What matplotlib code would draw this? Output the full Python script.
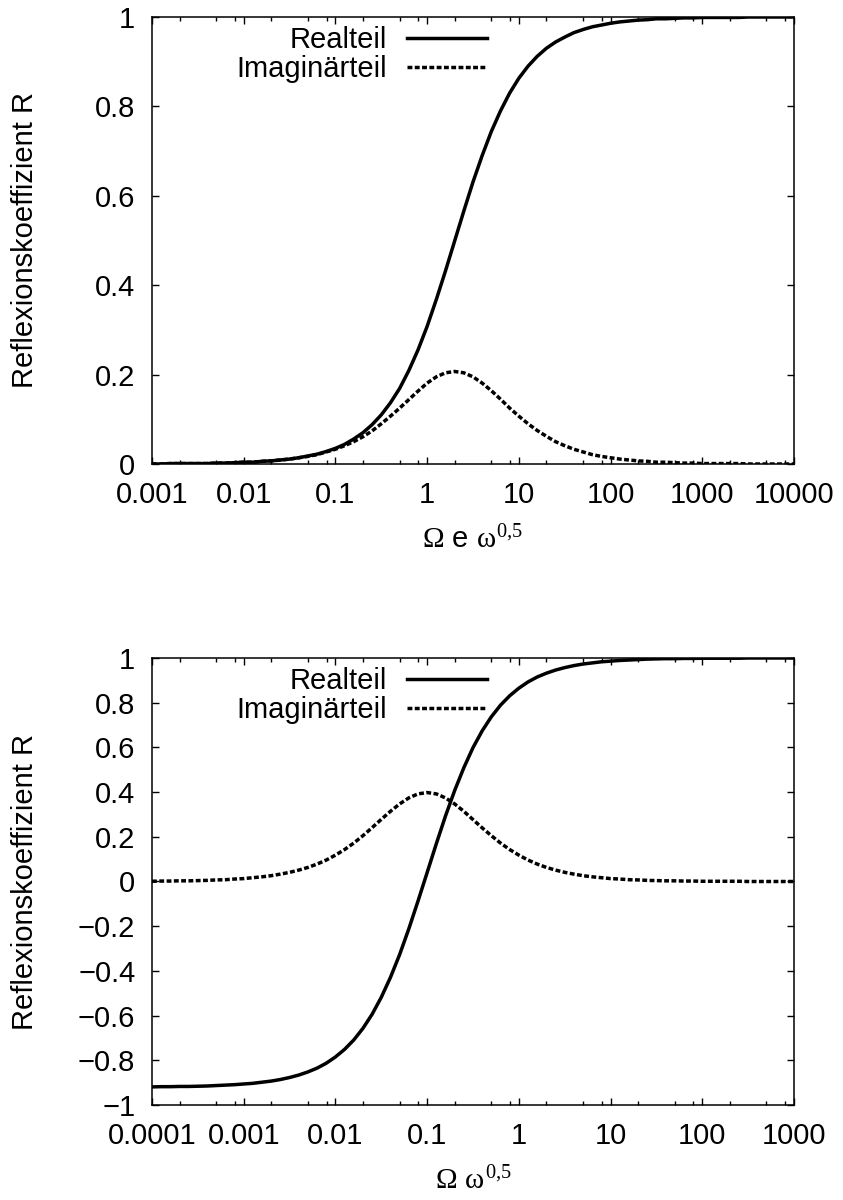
import matplotlib
matplotlib.use("Agg")
import matplotlib.pyplot as plt
from matplotlib.ticker import FixedLocator, FixedFormatter, NullFormatter

plt.rcParams["font.family"] = ["Liberation Sans", "DejaVu Sans"]
plt.rcParams["mathtext.fontset"] = "custom"
plt.rcParams["mathtext.rm"] = "Liberation Serif"
plt.rcParams["mathtext.it"] = "Liberation Serif"
plt.rcParams["mathtext.bf"] = "Liberation Serif"

# sample positions: ten per decade
omega_top = [10 ** (k / 10) for k in range(-30, 41)]   # 0.001 .. 10000
omega_bot = [10 ** (k / 10) for k in range(-40, 31)]   # 0.0001 .. 1000

real_top = [0.000, 0.000, 0.001, 0.001, 0.001, 0.001, 0.001, 0.002, 0.002, 0.003,
            0.004, 0.004, 0.006, 0.007, 0.009, 0.011, 0.014, 0.018, 0.022, 0.028,
            0.035, 0.044, 0.056, 0.070, 0.088, 0.110, 0.137, 0.169, 0.209, 0.255,
            0.308, 0.368, 0.432, 0.499, 0.566, 0.631, 0.690, 0.744, 0.790, 0.830,
            0.863, 0.890, 0.912, 0.930, 0.944, 0.955, 0.965, 0.972, 0.978, 0.982,
            0.986, 0.989, 0.991, 0.993, 0.994, 0.996, 0.996, 0.997, 0.998, 0.998,
            0.999, 0.999, 0.999, 0.999, 0.999, 1.000, 1.000, 1.000, 1.000, 1.000,
            1.000]
imag_top = [0.000, 0.000, 0.001, 0.001, 0.001, 0.001, 0.001, 0.002, 0.002, 0.003,
            0.004, 0.004, 0.006, 0.007, 0.009, 0.011, 0.014, 0.017, 0.021, 0.027,
            0.033, 0.041, 0.050, 0.061, 0.074, 0.090, 0.107, 0.125, 0.144, 0.163,
            0.181, 0.195, 0.204, 0.207, 0.204, 0.195, 0.181, 0.164, 0.145, 0.125,
            0.107, 0.090, 0.075, 0.062, 0.050, 0.041, 0.033, 0.027, 0.021, 0.017,
            0.014, 0.011, 0.009, 0.007, 0.006, 0.004, 0.004, 0.003, 0.002, 0.002,
            0.001, 0.001, 0.001, 0.001, 0.001, 0.000, 0.000, 0.000, 0.000, 0.000,
            0.000]
real_bot = [-0.919, -0.918, -0.918, -0.917, -0.917, -0.916, -0.915, -0.913, -0.911, -0.909,
            -0.906, -0.903, -0.898, -0.893, -0.886, -0.877, -0.866, -0.852, -0.835, -0.813,
            -0.785, -0.751, -0.709, -0.657, -0.594, -0.518, -0.429, -0.327, -0.212, -0.088,
            0.040, 0.169, 0.293, 0.407, 0.509, 0.599, 0.674, 0.737, 0.789, 0.831,
            0.865, 0.893, 0.915, 0.932, 0.946, 0.957, 0.966, 0.973, 0.978, 0.983,
            0.986, 0.989, 0.991, 0.993, 0.995, 0.996, 0.997, 0.997, 0.998, 0.998,
            0.999, 0.999, 0.999, 0.999, 0.999, 1.000, 1.000, 1.000, 1.000, 1.000,
            1.000]
imag_bot = [0.001, 0.002, 0.002, 0.003, 0.003, 0.004, 0.005, 0.007, 0.008, 0.011,
            0.013, 0.017, 0.021, 0.026, 0.033, 0.041, 0.051, 0.063, 0.078, 0.096,
            0.118, 0.143, 0.172, 0.205, 0.241, 0.278, 0.314, 0.347, 0.374, 0.392,
            0.398, 0.392, 0.374, 0.347, 0.314, 0.277, 0.240, 0.205, 0.172, 0.143,
            0.118, 0.096, 0.078, 0.063, 0.051, 0.041, 0.033, 0.026, 0.021, 0.017,
            0.013, 0.011, 0.008, 0.007, 0.005, 0.004, 0.003, 0.003, 0.002, 0.002,
            0.001, 0.001, 0.001, 0.001, 0.001, 0.000, 0.000, 0.000, 0.000, 0.000,
            0.000]

xticks_top = [1e-3, 1e-2, 1e-1, 1, 10, 100, 1000, 10000]
xlabels_top = ["0.001", "0.01", "0.1", "1", "10", "100", "1000", "10000"]
xticks_bot = [1e-4, 1e-3, 1e-2, 1e-1, 1, 10, 100, 1000]
xlabels_bot = ["0.0001", "0.001", "0.01", "0.1", "1", "10", "100", "1000"]
yticks_top = [0, 0.2, 0.4, 0.6, 0.8, 1]
ylabels_top = ["0", "0.2", "0.4", "0.6", "0.8", "1"]
yticks_bot = [-1, -0.8, -0.6, -0.4, -0.2, 0, 0.2, 0.4, 0.6, 0.8, 1]
ylabels_bot = ["\u22121", "\u22120.8", "\u22120.6", "\u22120.4", "\u22120.2", "0",
               "0.2", "0.4", "0.6", "0.8", "1"]

FS = 21
LW = 2.5
DASH = (0, (1.4, 0.7))


def style_axis(ax, xt, xl, yt, yl):
    ax.set_xscale("log")
    ax.xaxis.set_major_locator(FixedLocator(xt))
    ax.xaxis.set_major_formatter(FixedFormatter(xl))
    minors = [d * m for d in xt[:-1] for m in (2, 5, 8)]
    ax.xaxis.set_minor_locator(FixedLocator(minors))
    ax.xaxis.set_minor_formatter(NullFormatter())
    ax.yaxis.set_major_locator(FixedLocator(yt))
    ax.yaxis.set_major_formatter(FixedFormatter(yl))
    ax.tick_params(which="both", direction="in", top=True, right=True,
                   labelsize=FS, width=1.0, color="black")
    ax.tick_params(which="major", length=5, pad=12)
    ax.tick_params(which="minor", length=3)
    for sp in ax.spines.values():
        sp.set_linewidth(1.1)
    ax.set_ylabel("Reflexionskoeffizient R", fontsize=FS)
    ax.yaxis.set_label_coords(-0.176, 0.5)


def add_legend(ax):
    ax.legend(loc="upper right", bbox_to_anchor=(0.5445, 1.013), frameon=False,
              markerfirst=False, fontsize=FS, handlelength=2.75, handletextpad=0.69,
              labelspacing=0.05, borderaxespad=0.2, borderpad=0.3)


fig = plt.figure(figsize=(8.43, 12), dpi=100)
ax1 = fig.add_axes([152 / 843, 1 - 464 / 1200, 642 / 843, 447 / 1200])
ax2 = fig.add_axes([152 / 843, 1 - 1105 / 1200, 642 / 843, 447 / 1200])

# top panel
ax1.plot(omega_top, real_top, color="black", lw=LW, label="Realteil")
ax1.plot(omega_top, imag_top, color="black", lw=LW, ls=DASH, label="Imaginärteil")
ax1.set_xlim(1e-3, 1e4)
ax1.set_ylim(0, 1)
style_axis(ax1, xticks_top, xlabels_top, yticks_top, ylabels_top)
ax1.set_xlabel(r"$\Omega$ e $\omega^{0{,}5}$", fontsize=FS)
ax1.xaxis.set_label_coords(0.5, -0.138)
add_legend(ax1)

# bottom panel
ax2.plot(omega_bot, real_bot, color="black", lw=LW, label="Realteil")
ax2.plot(omega_bot, imag_bot, color="black", lw=LW, ls=DASH, label="Imaginärteil")
ax2.set_xlim(1e-4, 1e3)
ax2.set_ylim(-1, 1)
style_axis(ax2, xticks_bot, xlabels_bot, yticks_bot, ylabels_bot)
ax2.set_xlabel(r"$\Omega$ $\omega^{0{,}5}$", fontsize=FS)
ax2.xaxis.set_label_coords(0.5, -0.138)
add_legend(ax2)

fig.savefig("out.png", dpi=100)
